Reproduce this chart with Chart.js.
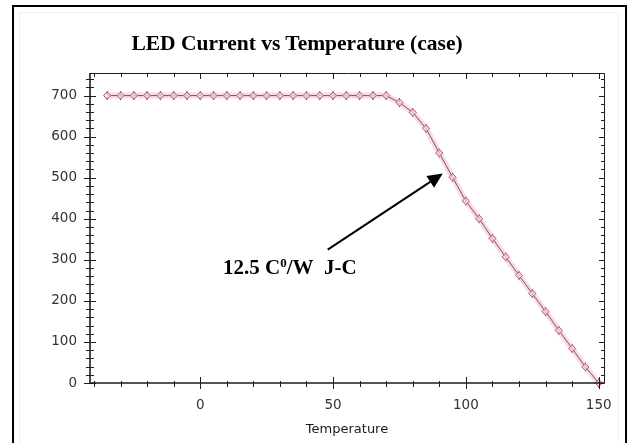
<!DOCTYPE html>
<html>
<head>
<meta charset="utf-8">
<script src="https://cdn.jsdelivr.net/npm/chart.js@4.4.1/dist/chart.umd.min.js"></script>
<style>
  html, body { margin: 0; padding: 0; background: #fff; }
  #wrap { position: relative; width: 631px; height: 443px; overflow: hidden; background: #fff; }
  #inner { position: absolute; left: 19px; top: 12px; width: 600px; height: 440px; border: 1px solid #f0f0f0; box-sizing: border-box; }
  #frame { position: absolute; left: 12px; top: 5px; width: 615px; height: 460px; border: 2px solid #000; box-sizing: border-box; }
  canvas { position: absolute; left: 0; top: 0; }
  .lbl { position: absolute; font-family: "Liberation Serif", "Times New Roman", serif; font-weight: bold; color: #000; white-space: nowrap; line-height: 1; }
  #title { left: 0; width: 594px; text-align: center; top: 33px; font-size: 21.5px; }
  #note { left: 223px; top: 257px; font-size: 21px; }
  #note sup { font-size: 13px; vertical-align: 0; position: relative; top: -7px; }
</style>
</head>
<body>
<div id="wrap">
  <div id="inner"></div>
  <canvas id="c" width="631" height="443"></canvas>
  <div id="frame"></div>
  <div class="lbl" id="title">LED Current vs Temperature (case)</div>
  <div class="lbl" id="note">12.5 C<sup>0</sup>/W&nbsp;&nbsp;J-C</div>
</div>
<script>
// ---- data ----
const temperatures = [-35, -30, -25, -20, -15, -10, -5, 0, 5, 10, 15, 20, 25, 30, 35, 40, 45, 50, 55, 60, 65, 70,
                      75, 80, 85, 90, 95, 100, 105, 110, 115, 120, 125, 130, 135, 140, 145, 150];
const currents     = [700, 700, 700, 700, 700, 700, 700, 700, 700, 700, 700, 700, 700, 700, 700, 700, 700, 700, 700, 700, 700, 700,
                      683, 659, 620, 560, 501, 443, 400, 352, 307, 262, 218, 174, 128, 84, 39, 0];
const xTickLabels = [0, 50, 100, 150];
const yTickLabels = [0, 100, 200, 300, 400, 500, 600, 700];
const xTitle = 'Temperature';
const arrowFrom = { x: 48, y: 325 };
const arrowTo   = { x: 91.3, y: 510 };

const points = temperatures.map((t, i) => ({ x: t, y: currents[i] }));

const frameTicks = {
  id: 'frameTicks',
  afterDatasetsDraw(chart) {
    const { ctx, chartArea: a, scales: { x, y } } = chart;
    ctx.save();
    ctx.strokeStyle = '#1e1e1e';
    ctx.lineWidth = 1;
    ctx.beginPath();
    ctx.moveTo(a.left, a.top + 0.5); ctx.lineTo(a.right + 0.5, a.top + 0.5);
    ctx.lineTo(a.right + 0.5, a.bottom);
    ctx.stroke();
    ctx.lineWidth = 1.6;
    ctx.beginPath();
    ctx.moveTo(a.left, a.top); ctx.lineTo(a.left, a.bottom);
    ctx.lineTo(a.right + 1, a.bottom);
    ctx.stroke();
    ctx.lineWidth = 1;
    for (let v = -40; v <= 150; v += 10) {
      const px = Math.round(x.getPixelForValue(v)) + 0.5;
      const major = v % 50 === 0;
      ctx.beginPath();
      ctx.moveTo(px, a.bottom - (major ? 6 : 2));
      ctx.lineTo(px, a.bottom + (major ? 6 : 4));
      ctx.moveTo(px, a.top);
      ctx.lineTo(px, a.top + (major ? 6 : 4));
      ctx.stroke();
    }
    for (let v = 0; v <= 740; v += 20) {
      const py = Math.round(y.getPixelForValue(v)) + 0.5;
      const major = v % 100 === 0;
      ctx.beginPath();
      ctx.moveTo(a.left - (major ? 6 : 4), py);
      ctx.lineTo(a.left + (major ? 6 : 4), py);
      ctx.moveTo(a.right, py);
      ctx.lineTo(a.right - (major ? 5 : 3), py);
      ctx.stroke();
    }
    const x0 = x.getPixelForValue(arrowFrom.x), y0 = y.getPixelForValue(arrowFrom.y);
    const x1 = x.getPixelForValue(arrowTo.x),   y1 = y.getPixelForValue(arrowTo.y);
    const ang = Math.atan2(y1 - y0, x1 - x0);
    const hl = 15, hw = 7;
    const bx = x1 - hl * Math.cos(ang), by = y1 - hl * Math.sin(ang);
    ctx.strokeStyle = '#000';
    ctx.lineWidth = 2;
    ctx.beginPath(); ctx.moveTo(x0, y0); ctx.lineTo(bx, by); ctx.stroke();
    ctx.fillStyle = '#000';
    ctx.beginPath();
    ctx.moveTo(x1, y1);
    ctx.lineTo(bx + hw * Math.sin(ang), by - hw * Math.cos(ang));
    ctx.lineTo(bx - hw * Math.sin(ang), by + hw * Math.cos(ang));
    ctx.closePath(); ctx.fill();
    ctx.restore();
  }
};

const tickFont = { family: '"DejaVu Sans", Verdana, sans-serif', size: 13.5 };

new Chart(document.getElementById('c'), {
  type: 'line',
  data: {
    datasets: [
      { data: points, borderColor: 'rgba(240,160,182,0.38)', borderWidth: 6, pointRadius: 0, tension: 0, clip: false },
      { data: points, borderColor: '#2e2226', borderWidth: 1, tension: 0, clip: false,
        pointStyle: 'rectRot', pointRadius: 3.6, pointBorderWidth: 1,
        pointBorderColor: '#8e3d58', pointBackgroundColor: 'rgba(255,238,242,0.85)' },
      { data: points, showLine: false, clip: false, pointStyle: 'line', rotation: 90,
        pointRadius: 4.5, pointBorderWidth: 1, pointBorderColor: '#7a3048' }
    ]
  },
  options: {
    responsive: false,
    animation: false,
    devicePixelRatio: 1,
    layout: { padding: { left: 0, right: 27, top: 73, bottom: 0 } },
    plugins: { legend: { display: false }, tooltip: { enabled: false }, title: { display: false } },
    elements: { point: { hoverRadius: 0 } },
    scales: {
      x: {
        type: 'linear', min: -41.5, max: 152,
        afterBuildTicks: s => { s.ticks = xTickLabels.map(v => ({ value: v })); },
        afterFit: s => { s.height = 60; },
        grid: { display: false, drawTicks: false },
        border: { display: false },
        ticks: { padding: 14, color: '#333', font: tickFont, maxRotation: 0 },
        title: { display: true, text: xTitle, color: '#1a1a1a', font: { family: tickFont.family, size: 13 }, padding: { top: 0, bottom: 6 } }
      },
      y: {
        type: 'linear', min: 0, max: 755,
        afterBuildTicks: s => { s.ticks = yTickLabels.map(v => ({ value: v })); },
        afterFit: s => { s.width = 90; },
        grid: { display: false, drawTicks: false },
        border: { display: false },
        ticks: { padding: 13, color: '#333', font: tickFont }
      }
    }
  },
  plugins: [frameTicks]
});
</script>
</body>
</html>
